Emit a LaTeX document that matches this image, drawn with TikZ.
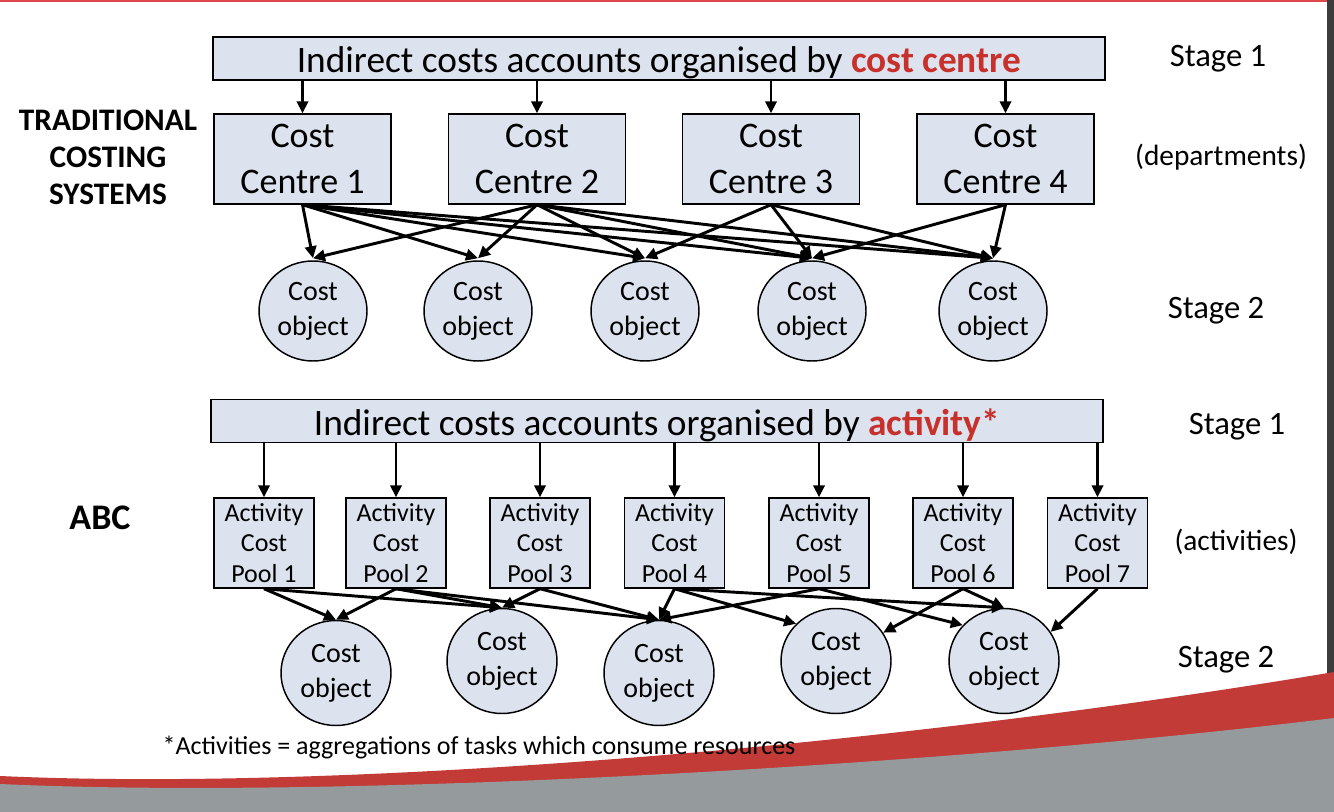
\documentclass[tikz,border=0pt]{standalone}
\usepackage{fontspec}
\setmainfont{Carlito}
\usetikzlibrary{arrows.meta,shapes.geometric}
\definecolor{boxfill}{HTML}{DCE3EE}
\definecolor{redtxt}{HTML}{C8302C}
\definecolor{swred}{HTML}{C33B37}
\definecolor{swgrey}{HTML}{959A9D}
\definecolor{edgebar}{HTML}{3C3C3C}
\definecolor{topred}{HTML}{E0474C}
\begin{document}
\begin{tikzpicture}[x=0.75pt,y=-0.75pt,
 box/.style={draw=black, line width=1.1pt, fill=boxfill, inner sep=0pt, align=center},
 headbox/.style={box, minimum width=669pt, minimum height=32.25pt, font=\fontsize{28}{32}\selectfont},
 ccbox/.style={box, minimum width=132.75pt, minimum height=67.5pt, font=\fontsize{27}{34}\selectfont},
 poolbox/.style={box, minimum width=75pt, minimum height=67.5pt, font=\fontsize{19.5}{23}\selectfont},
 obj/.style={ellipse, draw=black, line width=1.1pt, fill=boxfill, inner sep=0pt, align=center, font=\fontsize{21}{26}\selectfont},
 objA/.style={obj, minimum width=81pt, minimum height=75pt},
 objB/.style={obj, minimum width=82.5pt, minimum height=78.75pt},
 side/.style={font=\fontsize{24.5}{29}\selectfont},
 paren/.style={font=\fontsize{22}{26}\selectfont},
 title/.style={font=\fontsize{23.5}{27.75}\selectfont\bfseries, align=center},
 arr/.style={line width=2.2pt, -{Triangle[length=9pt,width=8.5pt]}},
]
\useasboundingbox (0,0) rectangle (1334,812);
\fill[white] (0,0) rectangle (1334,812);
\fill[edgebar] (1327,0) rectangle (1334,812);
\fill[topred] (0,0) rectangle (1327,2.5);
\fill[swred] (0,776) .. controls (350,792) and (900,745) .. (1334,672) -- (1334,812) -- (0,812) -- cycle;
\fill[swgrey] (0,784) .. controls (350,800) and (950,765) .. (1334,718) -- (1334,812) -- (0,812) -- cycle;

% ---------- traditional ----------
\node[headbox] (h1) at (659,58.5) {\raisebox{-3pt}[\height][\depth]{Indirect costs accounts organised by {\bfseries\color{redtxt}cost centre}}};
\node[ccbox] (c1) at (302.5,159) {Cost\\Centre 1};
\node[ccbox] (c2) at (537,159) {Cost\\Centre 2};
\node[ccbox] (c3) at (771,159) {Cost\\Centre 3};
\node[ccbox] (c4) at (1005.5,159) {Cost\\Centre 4};
\node[objA] (o1) at (313,311) {Cost\\object};
\node[objA] (o2) at (478,311) {Cost\\object};
\node[objA] (o3) at (645,311) {Cost\\object};
\node[objA] (o4) at (812,311) {Cost\\object};
\node[objA] (o5) at (993,311) {Cost\\object};

\node[title] (trad) at (108,157) {TRADITIONAL\\COSTING\\SYSTEMS};
\node[side] (st1) at (1218,59) {Stage 1};
\node[paren] (dep) at (1221,157) {(departments)};
\node[side] (st2) at (1216,311) {Stage 2};

\foreach \c in {c1,c2,c3,c4} \draw[arr] (\c.north |- h1.south) -- (\c.north);
\foreach \s/\t in {c1/o1,c1/o2,c1/o3,c1/o4,c1/o5,
                   c2/o1,c2/o2,c2/o3,c2/o4,c2/o5,
                   c3/o3,c3/o4,c3/o5,
                   c4/o4,c4/o5}
  \draw[arr] (\s.south) -- ([yshift=1.5pt]\t.north);

% ---------- ABC ----------
\node[headbox] (h2) at (657,421) {\raisebox{-3pt}[\height][\depth]{Indirect costs accounts organised by {\bfseries\color{redtxt}activity*}}};
\node[poolbox] (p1) at (264,543) {Activity\\Cost\\Pool 1};
\node[poolbox] (p2) at (396,543) {Activity\\Cost\\Pool 2};
\node[poolbox] (p3) at (540,543) {Activity\\Cost\\Pool 3};
\node[poolbox] (p4) at (674.5,543) {Activity\\Cost\\Pool 4};
\node[poolbox] (p5) at (819,543) {Activity\\Cost\\Pool 5};
\node[poolbox] (p6) at (963,543) {Activity\\Cost\\Pool 6};
\node[poolbox] (p7) at (1097.5,543) {Activity\\Cost\\Pool 7};
\node[objB] (q1) at (336,673) {Cost\\object};
\node[objB] (q2) at (502,661) {Cost\\object};
\node[objB] (q3) at (659,673) {Cost\\object};
\node[objB] (q4) at (836,661) {Cost\\object};
\node[objB] (q5) at (1004,661) {Cost\\object};

\node[font=\fontsize{27}{32}\selectfont\bfseries] (abc) at (100,518) {ABC};
\node[side] (st3) at (1237,427) {Stage 1};
\node[paren] (act) at (1236,542) {(activities)};
\node[side] (st4) at (1226,660) {Stage 2};
\node[anchor=west, font=\fontsize{19.5}{23}\selectfont] (foot) at (158,748) {*Activities = aggregations of tasks which consume resources};

\foreach \c in {p1,p2,p3,p4,p5,p6,p7} \draw[arr] (\c.north |- h2.south) -- (\c.north);
\foreach \s/\t in {p1/q1.north,p1/q2.north,
                   p2/q1.north,p2/q2.north,p2/q3.north,
                   p3/q2.north,p3/q3.north,
                   p4/q3.north,p4/q4.137,p4/q5.north,
                   p5/q3.north,p5/q5.139,
                   p6/q4.31,p6/q5.north,
                   p7/q5.32}
  \draw[arr] (\s.south) -- (\t);
\end{tikzpicture}
\end{document}
